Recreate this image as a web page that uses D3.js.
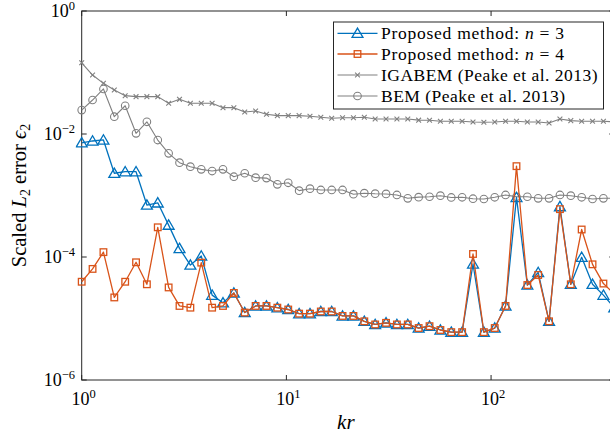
<!DOCTYPE html>
<html>
<head>
<meta charset="utf-8">
<script src="https://cdn.jsdelivr.net/npm/d3@7"></script>
<style>
  html, body { margin: 0; padding: 0; background: #fff; }
  svg { display: block; }
  text { font-family: "Liberation Serif", "DejaVu Serif", serif; fill: #000; }
</style>
</head>
<body>
<svg id="chart" width="610" height="437"></svg>
<script>
// Wavenumber samples kr (log-spaced from 1 to 400)
const kr = [1, 1.130, 1.277, 1.443, 1.631, 1.843, 2.082, 2.353, 2.659, 3.005,
  3.396, 3.838, 4.337, 4.901, 5.539, 6.259, 7.074, 7.994, 9.033, 10.21,
  11.54, 13.04, 14.73, 16.65, 18.81, 21.26, 24.03, 27.15, 30.68, 34.67,
  39.18, 44.28, 50.04, 56.55, 63.90, 72.21, 81.61, 92.22, 104.2, 117.7,
  133.1, 150.4, 169.9, 192.0, 217.0, 245.2, 277.1, 313.1, 353.9, 400];

// Scaled L2 error, proposed method with n = 3
const errN3 = [7.2e-3, 7.7e-3, 8.0e-3, 2.3e-3, 2.44e-3, 2.44e-3, 7.0e-4, 7.6e-4, 3.3e-4, 1.38e-4,
  7.4e-5, 1.04e-4, 2.4e-5, 1.8e-5, 2.6e-5, 1.25e-5, 1.6e-5, 1.6e-5, 1.5e-5, 1.4e-5,
  1.2e-5, 1.2e-5, 1.3e-5, 1.3e-5, 1.1e-5, 1.1e-5, 9e-6, 8e-6, 8.5e-6, 8e-6,
  8e-6, 7e-6, 7.5e-6, 6.5e-6, 6e-6, 6e-6, 7.7e-5, 6e-6, 7e-6, 1.6e-5,
  9.3e-4, 3.5e-5, 5.6e-5, 9e-6, 6.6e-4, 3.6e-5, 9.9e-5, 3.6e-5, 2.4e-5, 1.5e-5];

// Scaled L2 error, proposed method with n = 4
const errN4 = [3.96e-5, 6.4e-5, 1.2e-4, 2.2e-5, 3.96e-5, 8.2e-5, 3.6e-5, 3.04e-4, 3.2e-5, 1.6e-5,
  1.5e-5, 8.1e-5, 1.5e-5, 1.6e-5, 2.6e-5, 1.25e-5, 1.6e-5, 1.6e-5, 1.5e-5, 1.4e-5,
  1.2e-5, 1.2e-5, 1.3e-5, 1.3e-5, 1.1e-5, 1.1e-5, 9e-6, 8e-6, 8.5e-6, 8e-6,
  8e-6, 7e-6, 7.5e-6, 6.5e-6, 6e-6, 6e-6, 1.12e-4, 6e-6, 7e-6, 1.6e-5,
  3.0e-3, 3.5e-5, 5.1e-5, 9e-6, 6.0e-4, 3.6e-5, 2.8e-4, 7.6e-5, 3.7e-5, 2.5e-5];

// IGABEM reference results (Peake et al. 2013)
const errIGABEM = [0.144, 0.091, 0.0667, 0.0519, 0.0420, 0.0405, 0.0405, 0.0405, 0.0316, 0.0366,
  0.0316, 0.0316, 0.0316, 0.0268, 0.0268, 0.0228, 0.0237, 0.0209, 0.0199, 0.0199,
  0.0199, 0.0194, 0.0187, 0.0180, 0.0184, 0.0184, 0.0187, 0.0175, 0.0175, 0.0175,
  0.0175, 0.0168, 0.0167, 0.0161, 0.0161, 0.0161, 0.0157, 0.0155, 0.0157, 0.0161,
  0.0161, 0.0157, 0.0157, 0.0151, 0.0175, 0.0165, 0.0161, 0.0161, 0.0161, 0.0158];

// BEM reference results (Peake et al. 2013)
const errBEM = [0.0245, 0.0357, 0.0540, 0.0191, 0.0288, 0.01026, 0.0158, 0.00798, 0.00485, 0.00342,
  0.00294, 0.00266, 0.00250, 0.00266, 0.00202, 0.00230, 0.00195, 0.00192, 0.00152, 0.00161,
  0.00120, 0.00129, 0.00123, 0.00123, 0.00123, 0.00105, 0.00109, 0.00107, 0.00106, 0.00102,
  0.000900, 0.000940, 0.000955, 0.000993, 0.000929, 0.000935, 0.000887, 0.000877, 0.000935, 0.00102,
  0.000955, 0.000955, 0.000900, 0.000900, 0.00102, 0.000993, 0.000935, 0.000877, 0.000900, 0.000900];

const xTicks = [1, 10, 100];
const xTickExp = ["0", "1", "2"];
const yTicks = [1e-6, 1e-4, 1e-2, 1];
const yTickExp = ["\u22126", "\u22124", "\u22122", "0"];

const seriesNames = ["n3", "n4", "igabem", "bem"];

const svg = d3.select("#chart");
const W = 610, H = 437;
const plot = { left: 81.7, right: 614.3, top: 11, bottom: 380 };

const x = d3.scaleLog().domain([1, 400]).range([plot.left, plot.right]);
const y = d3.scaleLog().domain([1e-6, 1]).range([plot.bottom, plot.top]);

svg.append("rect").attr("width", W).attr("height", H).attr("fill", "#fff");

svg.append("defs").append("clipPath").attr("id", "plotclip")
  .append("rect")
  .attr("x", plot.left - 6).attr("y", plot.top - 6)
  .attr("width", plot.right - plot.left + 12).attr("height", plot.bottom - plot.top + 12);

const axisColor = "#262626";

// Axes box
svg.append("rect")
  .attr("x", plot.left).attr("y", plot.top)
  .attr("width", plot.right - plot.left).attr("height", plot.bottom - plot.top)
  .attr("fill", "none").attr("stroke", axisColor).attr("stroke-width", 1);

// Inward ticks on all four sides
const tickLen = 5;
const gt = svg.append("g").attr("stroke", axisColor).attr("stroke-width", 1);
xTicks.forEach(v => {
  const px = x(v);
  gt.append("line").attr("x1", px).attr("x2", px).attr("y1", plot.bottom).attr("y2", plot.bottom - tickLen);
  gt.append("line").attr("x1", px).attr("x2", px).attr("y1", plot.top).attr("y2", plot.top + tickLen);
});
yTicks.forEach(v => {
  const py = y(v);
  gt.append("line").attr("x1", plot.left).attr("x2", plot.left + tickLen).attr("y1", py).attr("y2", py);
  gt.append("line").attr("x1", plot.right).attr("x2", plot.right - tickLen).attr("y1", py).attr("y2", py);
});

// Tick labels as powers of ten
function powerLabel(g, px, py, exp, anchor) {
  const t = g.append("text").attr("x", px).attr("y", py)
    .attr("text-anchor", anchor).attr("font-size", 18);
  t.append("tspan").text("10");
  t.append("tspan").attr("dy", -7.5).attr("font-size", 12.5).text(exp);
  return t;
}
const gl = svg.append("g");
xTicks.forEach((v, i) => powerLabel(gl, x(v) + 2, 405, xTickExp[i], "middle"));
yTicks.forEach((v, i) => powerLabel(gl, 75, y(v) + 6, yTickExp[i], "end"));

// Axis titles
svg.append("text")
  .attr("x", (plot.left + 610) / 2).attr("y", 429)
  .attr("text-anchor", "middle").attr("font-size", 21).attr("font-style", "italic")
  .text("kr");

const yl = svg.append("text")
  .attr("transform", `translate(26,${(plot.top + plot.bottom) / 2}) rotate(-90)`)
  .attr("text-anchor", "middle").attr("font-size", 20.5);
yl.append("tspan").text("Scaled ");
yl.append("tspan").attr("font-style", "italic").text("L");
yl.append("tspan").attr("font-size", 14).attr("dy", 4).text("2");
yl.append("tspan").attr("dy", -4).text(" error ");
yl.append("tspan").attr("font-style", "italic").text("\u03F5");
yl.append("tspan").attr("font-size", 14).attr("dy", 4).text("2");

// Data series
const style = {
  n3: { color: "#0072BD", width: 1.3, marker: "triangle", values: errN3 },
  n4: { color: "#D95319", width: 1.3, marker: "square", values: errN4 },
  igabem: { color: "#808080", width: 1.1, marker: "cross", values: errIGABEM },
  bem: { color: "#808080", width: 1.1, marker: "circle", values: errBEM }
};

function drawMarker(g, type, cx, cy, color) {
  if (type === "triangle") {
    const s = 5.2;
    g.append("path")
      .attr("d", `M${cx},${cy - s}L${cx + s * 1.05},${cy + s * 0.8}L${cx - s * 1.05},${cy + s * 0.8}Z`)
      .attr("fill", "none").attr("stroke", color).attr("stroke-width", 1.3);
  } else if (type === "square") {
    const s = 3.3;
    g.append("rect").attr("x", cx - s).attr("y", cy - s).attr("width", 2 * s).attr("height", 2 * s)
      .attr("fill", "none").attr("stroke", color).attr("stroke-width", 1.3);
  } else if (type === "circle") {
    g.append("circle").attr("cx", cx).attr("cy", cy).attr("r", 3.8)
      .attr("fill", "none").attr("stroke", color).attr("stroke-width", 1.1);
  } else if (type === "cross") {
    const s = 2.4;
    g.append("path")
      .attr("d", `M${cx - s},${cy - s}L${cx + s},${cy + s}M${cx - s},${cy + s}L${cx + s},${cy - s}`)
      .attr("stroke", color).attr("stroke-width", 1.1).attr("fill", "none");
  }
}

const gData = svg.append("g").attr("clip-path", "url(#plotclip)");
const drawOrder = ["igabem", "bem", "n3", "n4"];
drawOrder.forEach(key => {
  const s = style[key];
  const pts = kr.map((k, i) => [k, s.values[i]]);
  const line = d3.line().x(d => x(d[0])).y(d => y(d[1]));
  const g = gData.append("g").attr("class", "series-" + key);
  g.append("path").attr("d", line(pts))
    .attr("fill", "none").attr("stroke", s.color).attr("stroke-width", s.width)
    .attr("stroke-linejoin", "round");
  pts.forEach(p => drawMarker(g, s.marker, x(p[0]), y(p[1]), s.color));
});

// Legend
const legendLabels = [
  [["Proposed method: ", false], ["n", true], [" = 3", false]],
  [["Proposed method: ", false], ["n", true], [" = 4", false]],
  [["IGABEM (Peake et al. 2013)", false]],
  [["BEM (Peake et al. 2013)", false]]
];
const legendWidths = [183, 183, 216.5, 184];
const lg = svg.append("g");
const lgBox = { x: 333.5, y: 22, w: 270, h: 87 };
lg.append("rect").attr("x", lgBox.x).attr("y", lgBox.y).attr("width", lgBox.w).attr("height", lgBox.h)
  .attr("fill", "#fff").attr("stroke", axisColor).attr("stroke-width", 1);
const rowY = [33.3, 54, 75, 96];
seriesNames.forEach((key, i) => {
  const s = style[key];
  const ry = rowY[i];
  lg.append("line").attr("x1", 337.5).attr("x2", 377.5).attr("y1", ry).attr("y2", ry)
    .attr("stroke", s.color).attr("stroke-width", s.width);
  drawMarker(lg, s.marker, 357.5, ry, s.color);
  const t = lg.append("text").attr("x", 381).attr("y", ry + 5.5).attr("font-size", 17.5)
    .attr("textLength", legendWidths[i]).attr("lengthAdjust", "spacing");
  legendLabels[i].forEach(([str, ital]) => {
    const sp = t.append("tspan").text(str);
    if (ital) sp.attr("font-style", "italic");
  });
});
</script>
</body>
</html>
